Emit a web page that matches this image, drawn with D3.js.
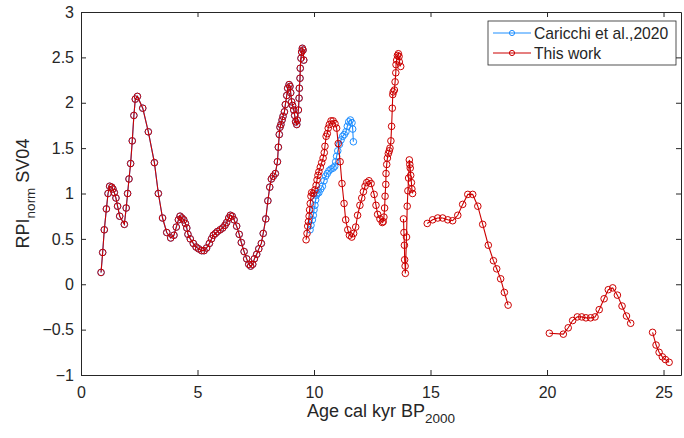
<!DOCTYPE html>
<html>
<head>
<meta charset="utf-8">
<script src="https://cdn.jsdelivr.net/npm/d3@7"></script>
<style>
  body { margin: 0; background: #fff; }
  svg { font-family: 'Liberation Sans', Arial, sans-serif; }
  .tick text { fill: #262626; font-size: 16px; }
  .axis path, .axis line { stroke: #262626; }
</style>
</head>
<body>
<svg id="chart"></svg>
<script>
// This work - core segments (age in cal kyr BP2000, RPI norm)
var workAge1 = [0.86,0.93,1.00,1.09,1.16,1.23,1.32,1.37,1.43,1.50,1.57,1.66,1.86,1.94,2.00,2.06,2.13,2.20,2.27,2.33,2.42,2.65,2.89,3.15,3.32,3.50,3.68,3.85,3.99,4.09,4.18,4.25,4.33,4.41,4.48,4.54,4.59,4.69,4.82,4.94,5.05,5.18,5.28,5.39,5.51,5.60,5.68,5.77,5.85,5.97,6.08,6.18,6.25,6.34,6.41,6.49,6.57,6.68,6.79,6.88,7.00,7.11,7.20,7.28,7.37,7.44,7.54,7.63,7.74,7.82,7.93,8.02,8.10,8.17,8.25,8.34,8.43,8.47,8.51,8.54,8.58,8.63,8.67,8.73,8.77,8.83,8.87,8.93,8.97,9.00,9.04,9.08,9.13,9.17,9.21,9.26,9.28,9.33,9.36,9.37,9.40,9.41,9.44,9.47,9.50,9.53,9.56];
var workRpi1 = [0.13,0.35,0.60,0.83,1.00,1.08,1.07,1.05,1.01,0.95,0.86,0.75,0.66,0.84,1.00,1.16,1.33,1.58,1.86,2.04,2.07,1.94,1.68,1.34,1.00,0.73,0.57,0.51,0.54,0.63,0.71,0.75,0.73,0.71,0.67,0.62,0.55,0.50,0.45,0.41,0.39,0.37,0.37,0.40,0.45,0.50,0.54,0.56,0.58,0.60,0.62,0.65,0.68,0.73,0.76,0.75,0.71,0.64,0.55,0.46,0.36,0.28,0.22,0.20,0.22,0.28,0.33,0.39,0.45,0.56,0.72,0.92,1.07,1.16,1.19,1.22,1.35,1.51,1.65,1.73,1.76,1.81,1.85,1.90,1.98,2.08,2.16,2.20,2.18,2.11,2.01,1.97,1.92,1.86,1.79,1.76,1.81,1.92,2.05,2.16,2.27,2.38,2.49,2.56,2.60,2.58,2.47];

var workAge2 = [9.66,9.70,9.73,9.76,9.79,9.81,9.84,9.87,9.90,9.97,10.04,10.09,10.13,10.17,10.21,10.27,10.33,10.39,10.44,10.47,10.52,10.57,10.61,10.66,10.73,10.82,10.90,10.97,11.04,11.12,11.20,11.29,11.36,11.45,11.52,11.62,11.70,11.79,11.87,11.97,12.05,12.12,12.19,12.26,12.36,12.45,12.58,12.66,12.73,12.83,12.93,12.97,13.00,13.03,13.05,13.08,13.09,13.12,13.15,13.19,13.23,13.26,13.30,13.33,13.36,13.38,13.40,13.45,13.48,13.51,13.52,13.55,13.58,13.62,13.65,13.66,13.72];
var workRpi2 = [0.49,0.56,0.64,0.69,0.75,0.82,0.89,0.97,1.01,1.00,1.04,1.09,1.15,1.20,1.24,1.29,1.34,1.39,1.45,1.52,1.63,1.66,1.72,1.76,1.80,1.80,1.77,1.72,1.55,1.35,1.11,0.89,0.71,0.60,0.54,0.52,0.56,0.63,0.76,0.87,0.95,1.02,1.08,1.12,1.14,1.11,0.99,0.87,0.77,0.72,0.68,0.69,0.74,0.84,0.97,1.10,1.22,1.32,1.39,1.44,1.47,1.50,1.58,1.74,1.94,2.09,2.12,2.14,2.23,2.33,2.42,2.47,2.52,2.54,2.51,2.45,2.40];

var workAge3 = [13.84,13.86,13.88,13.89,13.91,13.92,13.97,14.00,14.03,14.06,14.09,14.11,14.13,14.15,14.18,14.20,14.23];
var workRpi3 = [0.72,0.57,0.43,0.27,0.20,0.12,0.52,0.86,1.03,1.17,1.37,1.32,1.28,1.20,1.12,1.05,1.00];

var workAge4 = [14.86,15.09,15.31,15.52,15.74,15.95,16.17,16.38,16.60,16.81,17.03,17.24,17.48,17.70,17.84,18.01,18.17,18.33];
var workRpi4 = [0.67,0.71,0.73,0.73,0.71,0.70,0.76,0.88,0.99,0.99,0.86,0.66,0.43,0.26,0.17,0.06,-0.09,-0.23];

var workAge5 = [20.10,20.70,20.91,21.10,21.30,21.49,21.67,21.87,22.06,22.24,22.45,22.63,22.82,23.02,23.22,23.41,23.59];
var workRpi5 = [-0.54,-0.55,-0.48,-0.40,-0.36,-0.36,-0.37,-0.37,-0.36,-0.28,-0.16,-0.06,-0.04,-0.12,-0.24,-0.35,-0.43];

var workAge6 = [24.53,24.68,24.81,24.95,25.08,25.24];
var workRpi6 = [-0.53,-0.67,-0.75,-0.80,-0.83,-0.86];

// Caricchi et al., 2020 - same as this work up to 9.5 kyr, then offset segment
var caricchiAge2 = [9.83,9.87,9.93,9.97,10.00,10.04,10.07,10.10,10.14,10.21,10.29,10.36,10.43,10.50,10.57,10.64,10.73,10.82,10.89,10.93,10.97,11.02,11.09,11.16,11.23,11.30,11.37,11.43,11.49,11.56,11.63,11.66,11.69];
var caricchiRpi2 = [0.60,0.65,0.71,0.76,0.82,0.87,0.93,0.98,1.00,1.01,1.05,1.08,1.14,1.19,1.22,1.25,1.27,1.28,1.30,1.35,1.41,1.47,1.54,1.59,1.63,1.65,1.68,1.74,1.79,1.81,1.78,1.71,1.57];

var xTicks = [0, 5, 10, 15, 20, 25];
var yTicks = [-1, -0.5, 0, 0.5, 1, 1.5, 2, 2.5, 3];

var blue = '#1f8fff';
var red = '#cc0000';

function toPoints(ages, vals) {
    return ages.map((a, i) => ({age: a, rpi: vals[i]}));
}

var workSegments = [
    toPoints(workAge1, workRpi1), toPoints(workAge2, workRpi2), toPoints(workAge3, workRpi3),
    toPoints(workAge4, workRpi4), toPoints(workAge5, workRpi5), toPoints(workAge6, workRpi6)
];
var caricchiSegments = [toPoints(workAge1, workRpi1), toPoints(caricchiAge2, caricchiRpi2)];

// Set up svg area
var svgWidth = 684;
var svgHeight = 438;
var margin = {top: 12, right: 3, bottom: 63, left: 81};

var svg = d3.select('#chart')
    .attr('width', svgWidth)
    .attr('height', svgHeight);

var chartWidth = svgWidth - margin.left - margin.right;
var chartHeight = svgHeight - margin.top - margin.bottom;

var chartGroup = svg.append('g')
    .attr('transform', `translate(${margin.left}, ${margin.top})`);

var xScale = d3.scaleLinear().domain([0, 25.75]).range([0, chartWidth]);
var yScale = d3.scaleLinear().domain([-1, 3]).range([chartHeight, 0]);

// Axes, ticks pointing inward on all four sides
chartGroup.append('g')
    .attr('class', 'axis')
    .attr('transform', `translate(0, ${chartHeight})`)
    .call(d3.axisBottom(xScale).tickValues(xTicks).tickSizeInner(-5).tickSizeOuter(0).tickPadding(12));

chartGroup.append('g')
    .attr('class', 'axis')
    .call(d3.axisLeft(yScale).tickValues(yTicks).tickSizeInner(-5).tickSizeOuter(0).tickPadding(7)
        .tickFormat(d3.format('')));

chartGroup.append('g')
    .attr('class', 'axis')
    .call(d3.axisTop(xScale).tickValues(xTicks).tickSizeInner(-5).tickSizeOuter(0).tickFormat(''));

chartGroup.append('g')
    .attr('class', 'axis')
    .attr('transform', `translate(${chartWidth}, 0)`)
    .call(d3.axisRight(yScale).tickValues(yTicks).tickSizeInner(-5).tickSizeOuter(0).tickFormat(''));

var line = d3.line()
    .x((d) => xScale(d.age))
    .y((d) => yScale(d.rpi));

function drawSeries(segments, color) {
    var g = chartGroup.append('g');
    segments.forEach((seg) => {
        g.append('path')
            .datum(seg)
            .attr('d', line)
            .attr('fill', 'none')
            .attr('stroke', color)
            .attr('stroke-width', 1.1);
        g.selectAll(null)
            .data(seg)
            .enter()
            .append('circle')
            .attr('cx', (d) => xScale(d.age))
            .attr('cy', (d) => yScale(d.rpi))
            .attr('r', 3.3)
            .attr('fill', 'none')
            .attr('stroke', color)
            .attr('stroke-width', 1);
    });
}

drawSeries(caricchiSegments, blue);
drawSeries(workSegments, red);

// Legend
var legend = svg.append('g').attr('transform', 'translate(488, 21)');
legend.append('rect')
    .attr('width', 188)
    .attr('height', 44)
    .attr('fill', '#fff')
    .attr('stroke', '#262626')
    .attr('stroke-width', 0.8);

[['Caricchi et al.,2020', blue], ['This work', red]].forEach((item, i) => {
    var yy = 12 + i * 20;
    legend.append('line')
        .attr('x1', 5).attr('x2', 43)
        .attr('y1', yy).attr('y2', yy)
        .attr('stroke', item[1])
        .attr('stroke-width', 1.1);
    legend.append('circle')
        .attr('cx', 24).attr('cy', yy).attr('r', 2.6)
        .attr('fill', 'none')
        .attr('stroke', item[1]);
    legend.append('text')
        .attr('x', 46).attr('y', yy + 5.5)
        .attr('font-size', '15.7px')
        .attr('fill', '#262626')
        .text(item[0]);
});

// Axis titles
var xTitle = svg.append('text')
    .attr('x', margin.left + chartWidth / 2)
    .attr('y', 417)
    .attr('text-anchor', 'middle')
    .attr('font-size', '18px')
    .attr('fill', '#262626');
xTitle.append('tspan').text('Age cal kyr BP');
xTitle.append('tspan').attr('dy', 6).attr('font-size', '13.5px').text('2000');

var yTitle = svg.append('text')
    .attr('transform', `translate(29, ${margin.top + chartHeight / 2}) rotate(-90)`)
    .attr('text-anchor', 'middle')
    .attr('font-size', '18px')
    .attr('fill', '#262626');
yTitle.append('tspan').text('RPI');
yTitle.append('tspan').attr('dy', 6).attr('font-size', '13.5px').text('norm');
yTitle.append('tspan').attr('dy', -6).text(' SV04');
</script>
</body>
</html>
